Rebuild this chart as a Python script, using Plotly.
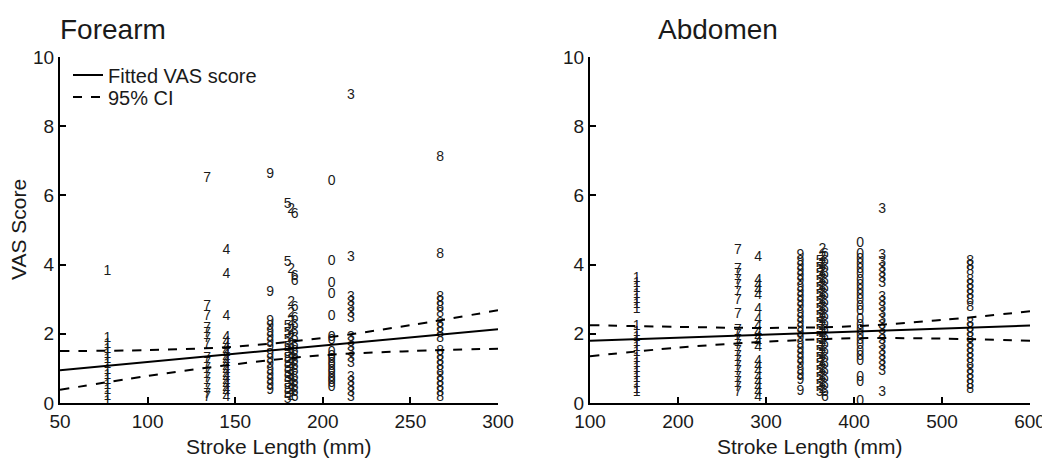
import plotly.graph_objects as go

# ---------------- Forearm data ----------------
fa_positions = [77, 134, 145, 170, 180, 182, 184, 205, 216, 267]
fa_labels = ["1", "7", "4", "9", "5", "2", "6", "0", "3", "8"]
fa_scores = [
    [3.8, 1.85, 1.7, 1.55, 1.4, 1.25, 1.1, 0.95, 0.8, 0.65, 0.5, 0.35, 0.2, 0.05],
    [6.5, 2.8, 2.5, 2.15, 2.0, 1.85, 1.7, 1.3, 1.15, 1.0, 0.85, 0.7, 0.55, 0.4, 0.25, 0.15],
    [4.4, 3.7, 2.5, 1.9, 1.75, 1.6, 1.5, 1.4, 1.3, 1.2, 1.1, 1.0, 0.9, 0.8, 0.7, 0.6, 0.5, 0.4, 0.3, 0.15],
    [6.6, 3.2, 2.35, 2.2, 2.05, 1.9, 1.75, 1.6, 1.4, 1.25, 1.1, 0.95, 0.8, 0.65, 0.5, 0.35],
    [5.75, 4.05, 2.2, 2.0, 1.8, 1.6, 1.45, 1.3, 1.15, 1.0, 0.85, 0.7, 0.55, 0.4, 0.25, 0.1],
    [5.6, 3.85, 2.9, 2.6, 2.35, 2.1, 1.9, 1.7, 1.55, 1.4, 1.25, 1.1, 0.95, 0.8, 0.65, 0.5, 0.35, 0.2],
    [5.45, 3.65, 3.5, 2.75, 2.45, 2.25, 2.05, 1.85, 1.65, 1.5, 1.35, 1.2, 1.05, 0.9, 0.75, 0.6, 0.45, 0.3, 0.15],
    [6.4, 4.1, 3.45, 3.15, 2.5, 1.9, 1.8, 1.45, 1.35, 1.25, 1.15, 1.05, 0.95, 0.85, 0.75, 0.65, 0.55, 0.45],
    [8.9, 4.2, 3.05, 2.9, 2.75, 2.6, 2.45, 1.9, 1.75, 1.6, 1.45, 1.3, 1.15, 0.75, 0.6, 0.45, 0.3, 0.15],
    [7.1, 4.3, 3.05, 2.9, 2.75, 2.6, 2.3, 2.15, 2.0, 1.85, 1.5, 1.35, 1.2, 1.05, 0.9, 0.75, 0.6, 0.45, 0.3, 0.15],
]
fa_fit_x = [50, 300]
fa_fit_y = [0.95, 2.13]
fa_ci_x = [50, 100, 150, 200, 250, 300]
fa_ci_upper = [1.50, 1.53, 1.63, 1.88, 2.25, 2.68]
fa_ci_lower = [0.38, 0.78, 1.12, 1.38, 1.50, 1.57]

# ---------------- Abdomen data ----------------
ab_positions = [153, 268, 291, 339, 361, 364, 367, 407, 432, 532]
ab_labels = ["1", "7", "4", "9", "5", "2", "6", "0", "3", "8"]
ab_scores = [
    [3.6, 3.45, 3.3, 3.15, 3.0, 2.85, 2.7, 2.2, 2.05, 1.9, 1.75, 1.6, 1.45, 1.3, 1.15, 1.0, 0.85, 0.7, 0.55, 0.4, 0.3],
    [4.4, 3.85, 3.7, 3.55, 3.4, 3.2, 2.95, 2.55, 2.1, 1.95, 1.8, 1.65, 1.5, 1.35, 1.2, 1.05, 0.9, 0.75, 0.6, 0.45, 0.3],
    [4.2, 3.55, 3.4, 3.25, 3.1, 2.7, 2.4, 2.2, 2.05, 1.9, 1.75, 1.6, 1.2, 1.05, 0.9, 0.75, 0.6, 0.45, 0.3, 0.17],
    [4.25, 4.1, 3.95, 3.8, 3.65, 3.5, 3.35, 3.2, 3.05, 2.9, 2.75, 2.6, 2.45, 2.3, 2.15, 2.0, 1.85, 1.7, 1.55, 1.4, 1.25, 1.1, 0.95, 0.8, 0.65, 0.32],
    [4.1, 3.9, 3.7, 3.5, 3.3, 3.1, 2.9, 2.7, 2.5, 2.3, 2.1, 1.9, 1.7, 1.5, 1.3, 1.1, 0.9, 0.7, 0.5, 0.3],
    [4.45, 4.2, 4.0, 3.8, 3.6, 3.4, 3.2, 3.0, 2.8, 2.6, 2.4, 2.2, 2.0, 1.8, 1.6, 1.4, 1.2, 1.0, 0.8, 0.6, 0.4],
    [4.3, 4.1, 3.9, 3.7, 3.5, 3.3, 3.1, 2.9, 2.7, 2.5, 2.3, 2.1, 1.9, 1.7, 1.5, 1.3, 1.1, 0.9, 0.7, 0.5, 0.3, 0.15],
    [4.6, 4.3, 4.15, 4.0, 3.85, 3.7, 3.55, 3.4, 3.25, 3.1, 2.95, 2.8, 2.65, 2.4, 2.25, 2.1, 1.95, 1.8, 1.65, 1.5, 1.35, 1.2, 0.75, 0.6, 0.03],
    [5.6, 4.25, 4.05, 3.9, 3.75, 3.6, 3.45, 3.05, 2.9, 2.75, 2.6, 2.4, 2.25, 2.1, 1.95, 1.8, 1.65, 1.5, 1.35, 1.2, 1.05, 0.9, 0.3],
    [4.1, 3.95, 3.8, 3.55, 3.4, 3.25, 3.1, 2.95, 2.75, 2.3, 2.15, 2.0, 1.85, 1.7, 1.55, 1.4, 1.25, 1.1, 0.95, 0.8, 0.65, 0.5, 0.38],
]
ab_fit_x = [100, 600]
ab_fit_y = [1.80, 2.24]
ab_ci_x = [100, 200, 300, 400, 500, 600]
ab_ci_upper = [2.25, 2.20, 2.17, 2.22, 2.40, 2.65]
ab_ci_lower = [1.35, 1.60, 1.77, 1.87, 1.86, 1.80]

FONT = "Arial, Liberation Sans, sans-serif"
INK = "#1a1a1a"

fig = go.Figure()


def add_panel(positions, labels, scores, fit_x, fit_y, ci_x, ci_up, ci_lo, xa, ya, legend):
    for xv, lab, ys in zip(positions, labels, scores):
        fig.add_trace(go.Scatter(
            x=[xv] * len(ys), y=ys, mode="text", text=[lab] * len(ys),
            textposition="middle center",
            textfont=dict(family=FONT, size=14, color=INK),
            xaxis=xa, yaxis=ya, showlegend=False, cliponaxis=False, hoverinfo="x+y"))
    fig.add_trace(go.Scatter(
        x=fit_x, y=fit_y, mode="lines", line=dict(color="black", width=2),
        name="Fitted VAS score", showlegend=legend, legend="legend", xaxis=xa, yaxis=ya))
    fig.add_trace(go.Scatter(
        x=ci_x, y=ci_up, mode="lines", line=dict(color="black", width=2, dash="dash", shape="spline"),
        name="95% CI", showlegend=legend, legend="legend2", xaxis=xa, yaxis=ya))
    fig.add_trace(go.Scatter(
        x=ci_x, y=ci_lo, mode="lines", line=dict(color="black", width=2, dash="dash", shape="spline"),
        name="95% CI", showlegend=False, xaxis=xa, yaxis=ya))


add_panel(fa_positions, fa_labels, fa_scores, fa_fit_x, fa_fit_y, fa_ci_x, fa_ci_upper, fa_ci_lower, "x", "y", True)
add_panel(ab_positions, ab_labels, ab_scores, ab_fit_x, ab_fit_y, ab_ci_x, ab_ci_upper, ab_ci_lower, "x2", "y2", False)

# the page body adds an 8px margin; lay out in screen pixels and convert
OFF = 8
W, H = 1050 - OFF, 474 - OFF


def px(x):
    return (x - OFF) / W


def py(y):
    return 1 - (y - OFF) / H


ydom = [py(403), py(57)]

axis_common = dict(
    showline=True, linecolor="black", linewidth=2, ticks="inside", ticklen=6,
    tickwidth=1.5, tickcolor="black", showgrid=False, zeroline=False, automargin=False,
    tickfont=dict(family=FONT, size=19, color=INK),
)

legend_common = dict(xanchor="left", yanchor="middle", bgcolor="rgba(0,0,0,0)",
                     font=dict(family=FONT, size=20, color=INK), itemwidth=30)

fig.update_layout(
    width=W, height=H,
    margin=dict(l=0, r=0, t=0, b=0, autoexpand=False),
    paper_bgcolor="white", plot_bgcolor="white",
    font=dict(family=FONT, color=INK),
    xaxis=dict(domain=[px(60), px(498)], range=[50, 300], tickvals=[50, 100, 150, 200, 250, 300],
               anchor="y", **axis_common),
    yaxis=dict(domain=ydom, range=[0, 10], tickvals=[0, 2, 4, 6, 8, 10], anchor="x", **axis_common),
    xaxis2=dict(domain=[px(590), px(1030)], range=[100, 600], tickvals=[100, 200, 300, 400, 500, 600],
                anchor="y2", **axis_common),
    yaxis2=dict(domain=ydom, range=[0, 10], tickvals=[0, 2, 4, 6, 8, 10], anchor="x2", **axis_common),
    showlegend=True,
    legend=dict(x=px(68), y=py(75), **legend_common),
    legend2=dict(x=px(68), y=py(97), **legend_common),
    annotations=[
        dict(text="Forearm", x=px(58), y=py(30), xref="paper", yref="paper", xanchor="left",
             yanchor="middle", showarrow=False, font=dict(family=FONT, size=28, color=INK)),
        dict(text="Abdomen", x=px(656), y=py(30), xref="paper", yref="paper", xanchor="left",
             yanchor="middle", showarrow=False, font=dict(family=FONT, size=28, color=INK)),
        dict(text="Stroke Length (mm)", x=px(279), y=py(446), xref="paper", yref="paper",
             xanchor="center", yanchor="middle", showarrow=False, font=dict(family=FONT, size=21, color=INK)),
        dict(text="Stroke Length (mm)", x=px(810), y=py(446), xref="paper", yref="paper",
             xanchor="center", yanchor="middle", showarrow=False, font=dict(family=FONT, size=21, color=INK)),
        dict(text="VAS Score", x=px(18), y=py(230), xref="paper", yref="paper", textangle=-90,
             xanchor="center", yanchor="middle", showarrow=False, font=dict(family=FONT, size=21, color=INK)),
    ],
)

fig.write_html("out.html")
